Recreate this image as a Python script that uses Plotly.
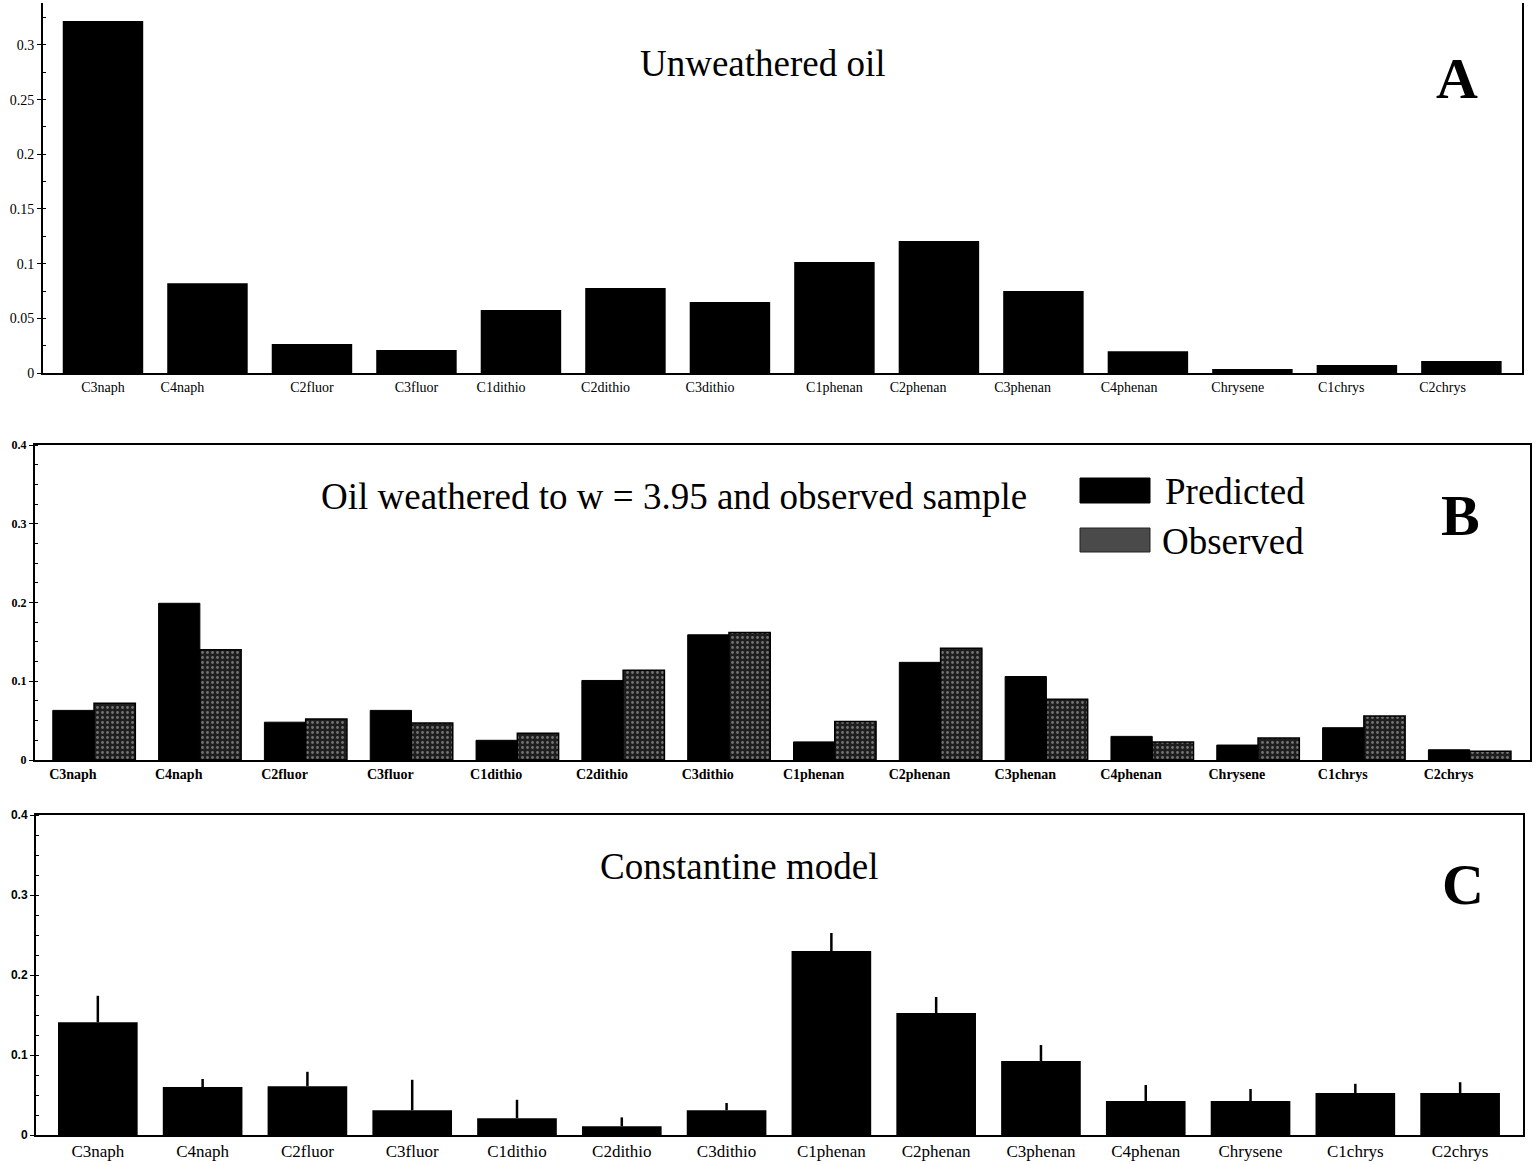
import plotly.graph_objects as go

categories = ["C3naph", "C4naph", "C2fluor", "C3fluor", "C1dithio", "C2dithio", "C3dithio",
              "C1phenan", "C2phenan", "C3phenan", "C4phenan", "Chrysene", "C1chrys", "C2chrys"]

unweathered = [0.322, 0.082, 0.0265, 0.021, 0.0576, 0.0777, 0.065, 0.1015, 0.1207, 0.075,
               0.020, 0.0037, 0.0073, 0.011]

predicted = [0.063, 0.199, 0.048, 0.063, 0.025, 0.101, 0.159, 0.023, 0.124, 0.106,
             0.030, 0.019, 0.041, 0.013]
observed = [0.072, 0.140, 0.052, 0.047, 0.034, 0.114, 0.162, 0.049, 0.142, 0.077,
            0.023, 0.028, 0.056, 0.011]

constantine = [0.141, 0.060, 0.061, 0.031, 0.021, 0.011, 0.031, 0.230, 0.1525, 0.0925,
               0.0425, 0.0425, 0.0525, 0.0525]
constantine_err = [0.033, 0.010, 0.018, 0.038, 0.023, 0.011, 0.009, 0.0225, 0.020, 0.020,
                   0.020, 0.015, 0.0115, 0.0135]

ticks_a = [0, 0.05, 0.1, 0.15, 0.2, 0.25, 0.3]
ticks_a_text = ["0", "0.05", "0.1", "0.15", "0.2", "0.25", "0.3"]
ticks_bc = [0, 0.1, 0.2, 0.3, 0.4]
ticks_bc_text = ["0", "0.1", "0.2", "0.3", "0.4"]

idx = list(range(len(categories)))
# label placement offsets (category units), as typeset in the original figure
label_shift_a = [0, -0.24, 0, 0, -0.19, -0.19, -0.19, 0, -0.2, -0.2, -0.18, -0.14, -0.15, -0.18]
label_shift_b = -0.2

W, H = 1536, 1165
SERIF = "Liberation Serif, Times New Roman, serif"

fig = go.Figure()

fig.add_trace(go.Bar(x=idx, y=unweathered, width=0.77, marker=dict(color="black", line=dict(width=0)),
                     xaxis="x", yaxis="y", showlegend=False))

fig.add_trace(go.Bar(x=idx, y=predicted, width=0.39, offset=-0.39,
                     marker=dict(color="black", line=dict(color="black", width=1)),
                     xaxis="x2", yaxis="y2", showlegend=False))
fig.add_trace(go.Bar(x=idx, y=observed, width=0.39, offset=0.0,
                     marker=dict(color="#262626", line=dict(color="black", width=1.5),
                                 pattern=dict(shape=".", fgcolor="#c8c8c8", bgcolor="#1e1e1e",
                                              size=5, solidity=0.25, fillmode="overlay")),
                     xaxis="x2", yaxis="y2", showlegend=False))

fig.add_trace(go.Bar(x=idx, y=constantine, width=0.76, marker=dict(color="black", line=dict(width=0)),
                     error_y=dict(type="data", symmetric=False, array=constantine_err,
                                  arrayminus=[0] * len(constantine), width=0, thickness=2.5,
                                  color="black"),
                     xaxis="x3", yaxis="y3", showlegend=False))


def px_x(p):
    return p / W


def px_y(p):
    return 1 - p / H


common_x = dict(tickmode="array", ticks="", showline=True, linecolor="black", linewidth=2,
                showgrid=False, zeroline=False, automargin=False)
common_y = dict(tickmode="array", showline=True, linecolor="black", linewidth=2,
                showgrid=False, zeroline=False, ticks="outside", ticklen=4, tickcolor="black",
                automargin=False,
                minor=dict(ticks="inside", ticklen=3, tickcolor="black", dtick=0.025))

fig.update_layout(
    width=W, height=H,
    margin=dict(l=0, r=0, t=0, b=0, pad=0),
    paper_bgcolor="white", plot_bgcolor="white",
    barmode="overlay",
    font=dict(family=SERIF, color="black"),
    xaxis=dict(**common_x, domain=[px_x(43), px_x(1522)], range=[-0.574, 13.58], anchor="y",
               mirror=False, tickvals=[i + s for i, s in zip(idx, label_shift_a)],
               ticktext=categories, tickfont=dict(size=14, family=SERIF)),
    yaxis=dict(**common_y, domain=[px_y(373), px_y(3)], range=[0, 0.3384], anchor="x",
               mirror=True, tickvals=ticks_a, ticktext=ticks_a_text,
               tickfont=dict(size=14, family=SERIF)),
    xaxis2=dict(**common_x, domain=[px_x(35), px_x(1530)], range=[-0.558, 13.57], anchor="y2",
                mirror=True, tickvals=[i + label_shift_b for i in idx], ticktext=categories,
                tickfont=dict(size=14, family=SERIF, weight="bold")),
    yaxis2=dict(**common_y, domain=[px_y(760), px_y(445)], range=[0, 0.4], anchor="x2",
                mirror=True, tickvals=ticks_bc, ticktext=ticks_bc_text,
                tickfont=dict(size=12, family=SERIF, weight="bold")),
    xaxis3=dict(**common_x, domain=[px_x(36), px_x(1523)], range=[-0.59, 13.60], anchor="y3",
                mirror=True, tickvals=idx, ticktext=categories,
                tickfont=dict(size=17, family=SERIF)),
    yaxis3=dict(**common_y, domain=[px_y(1135), px_y(815)], range=[0, 0.4], anchor="x3",
                mirror=True, tickvals=ticks_bc, ticktext=ticks_bc_text,
                tickfont=dict(size=12, family="Liberation Sans, Arial, sans-serif", weight="bold")),
)

annotations = [
    dict(text="Unweathered oil", x=px_x(763), y=px_y(63), size=37, bold=False),
    dict(text="A", x=px_x(1457), y=px_y(78), size=58, bold=True),
    dict(text="Oil weathered to w = 3.95 and observed sample", x=px_x(674), y=px_y(496), size=37, bold=False),
    dict(text="B", x=px_x(1460), y=px_y(515), size=58, bold=True),
    dict(text="Constantine model", x=px_x(739), y=px_y(866), size=37, bold=False),
    dict(text="C", x=px_x(1463), y=px_y(884), size=58, bold=True),
]
for a in annotations:
    fig.add_annotation(text=("<b>%s</b>" % a["text"]) if a["bold"] else a["text"],
                       x=a["x"], y=a["y"], xref="paper", yref="paper", showarrow=False,
                       xanchor="center", yanchor="middle",
                       font=dict(size=a["size"], family=SERIF, color="black"))

# legend for panel B
fig.add_shape(type="rect", xref="paper", yref="paper", x0=px_x(1080), x1=px_x(1150),
              y0=px_y(503), y1=px_y(478), fillcolor="black", line=dict(color="black", width=1))
fig.add_shape(type="rect", xref="paper", yref="paper", x0=px_x(1080), x1=px_x(1150),
              y0=px_y(552), y1=px_y(528), fillcolor="#4a4a4a", line=dict(color="#222222", width=1))
fig.add_annotation(text="Predicted", x=px_x(1163), y=px_y(492), xref="paper", yref="paper",
                   showarrow=False, xanchor="left", yanchor="middle",
                   font=dict(size=37, family=SERIF, color="black"))
fig.add_annotation(text="Observed", x=px_x(1160), y=px_y(541), xref="paper", yref="paper",
                   showarrow=False, xanchor="left", yanchor="middle",
                   font=dict(size=37, family=SERIF, color="black"))

fig.write_html("out.html", config={"displayModeBar": False},
               post_script="document.body.style.margin='0';document.body.style.overflow='hidden';")
